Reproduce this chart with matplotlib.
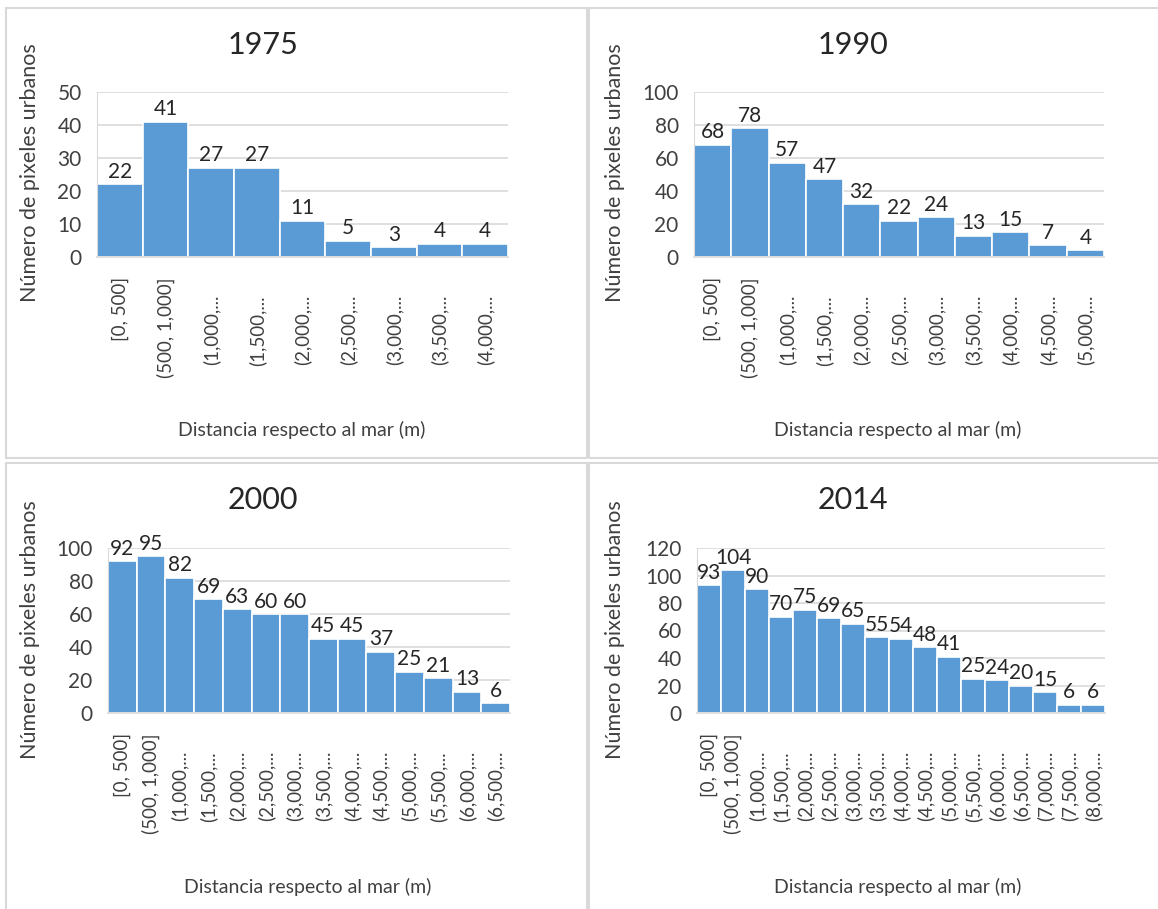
import matplotlib
matplotlib.use('Agg')
import matplotlib.pyplot as plt
from matplotlib.patches import Rectangle
from matplotlib.transforms import offset_copy

# urban pixel counts per 500 m distance band from the coast
bins = ['[0, 500]', '(500, 1,000]', '(1,000,...', '(1,500,...', '(2,000,...',
        '(2,500,...', '(3,000,...', '(3,500,...', '(4,000,...', '(4,500,...',
        '(5,000,...', '(5,500,...', '(6,000,...', '(6,500,...', '(7,000,...',
        '(7,500,...', '(8,000,...']

counts_1975 = [22, 41, 27, 27, 11, 5, 3, 4, 4]
counts_1990 = [68, 78, 57, 47, 32, 22, 24, 13, 15, 7, 4]
counts_2000 = [92, 95, 82, 69, 63, 60, 60, 45, 45, 37, 25, 21, 13, 6]
counts_2014 = [93, 104, 90, 70, 75, 69, 65, 55, 54, 48, 41, 25, 24, 20, 15, 6, 6]

years = ['1975', '1990', '2000', '2014']
ymax = [50, 100, 100, 120]
ystep = [10, 20, 20, 20]

plt.rcParams['font.family'] = ['Lato', 'DejaVu Sans']

W, H = 1158, 909
fig = plt.figure(figsize=(W / 100, H / 100), dpi=100)

BLUE = '#5b9bd5'
GRID = '#d9d9d9'
TXT = '#404040'


def px_axes(x0, x1, y0, y1):
    return fig.add_axes([x0 / W, 1 - y1 / H, (x1 - x0) / W, (y1 - y0) / H])


# chart frames
for (x0, y0, x1, y1) in [(6, 8, 587, 458), (589, 8, 1170, 458),
                         (6, 463, 587, 920), (589, 463, 1170, 920)]:
    fig.patches.append(Rectangle((x0 / W, 1 - y1 / H), (x1 - x0) / W, (y1 - y0) / H,
                                 transform=fig.transFigure, fill=False,
                                 edgecolor=GRID, lw=1.5))

boxes = [(97, 508, 92, 257), (694, 1104, 92, 257),
         (108, 510, 548, 713), (697, 1105, 548, 713)]
title_pos = [(263, 45), (853, 45), (263, 500), (853, 500)]
ylab_pos = [(30, 173), (615, 173), (30, 630), (615, 630)]
xlab_pos = [(302, 430), (898, 430), (308, 887), (898, 887)]

for i, counts in enumerate([counts_1975, counts_1990, counts_2000, counts_2014]):
    ax = px_axes(*boxes[i])
    n = len(counts)
    xs = range(n)
    ax.bar(xs, counts, width=1.0, color=BLUE, edgecolor='white', lw=1.2, zorder=2)
    for x, v in zip(xs, counts):
        ax.text(x, v + ymax[i] * 0.015, str(v), ha='center', va='bottom',
                fontsize=15, color='#262626', zorder=3)
    ax.set_xlim(-0.5, n - 0.5)
    ax.set_ylim(0, ymax[i])
    ax.set_yticks(range(0, ymax[i] + 1, ystep[i]))
    ax.set_xticks(list(xs))
    ax.set_xticklabels([])
    ax.tick_params(axis='y', length=0, pad=11, labelsize=15, labelcolor=TXT)
    ax.tick_params(axis='x', length=0)

    # category labels: full ones hang 20 px below the axis, truncated ones lower
    for x, lab in zip(xs, bins[:n]):
        drop = -20 if not lab.endswith('...') else -38
        tr = offset_copy(ax.get_xaxis_transform(), fig=fig, y=drop, units='dots')
        ax.text(x, 0, lab, transform=tr, rotation=90, ha='center', va='top',
                fontsize=13.5, color=TXT, rotation_mode='default')

    ax.grid(axis='y', color=GRID, lw=1.2, zorder=0)
    ax.set_axisbelow(True)
    for s in ['top', 'right']:
        ax.spines[s].set_visible(False)
    ax.spines['left'].set_color(GRID)
    ax.spines['bottom'].set_color(GRID)
    ax.spines['bottom'].set_linewidth(1.2)

    fig.text(title_pos[i][0] / W, 1 - title_pos[i][1] / H, years[i],
             ha='center', va='center', fontsize=22, color='#262626')
    fig.text(ylab_pos[i][0] / W, 1 - ylab_pos[i][1] / H, 'Número de pixeles urbanos',
             ha='center', va='center', rotation=90, fontsize=15.5, color=TXT)
    fig.text(xlab_pos[i][0] / W, 1 - xlab_pos[i][1] / H, 'Distancia respecto al mar (m)',
             ha='center', va='center', fontsize=14, color=TXT)

fig.savefig('out.png', dpi=100)
